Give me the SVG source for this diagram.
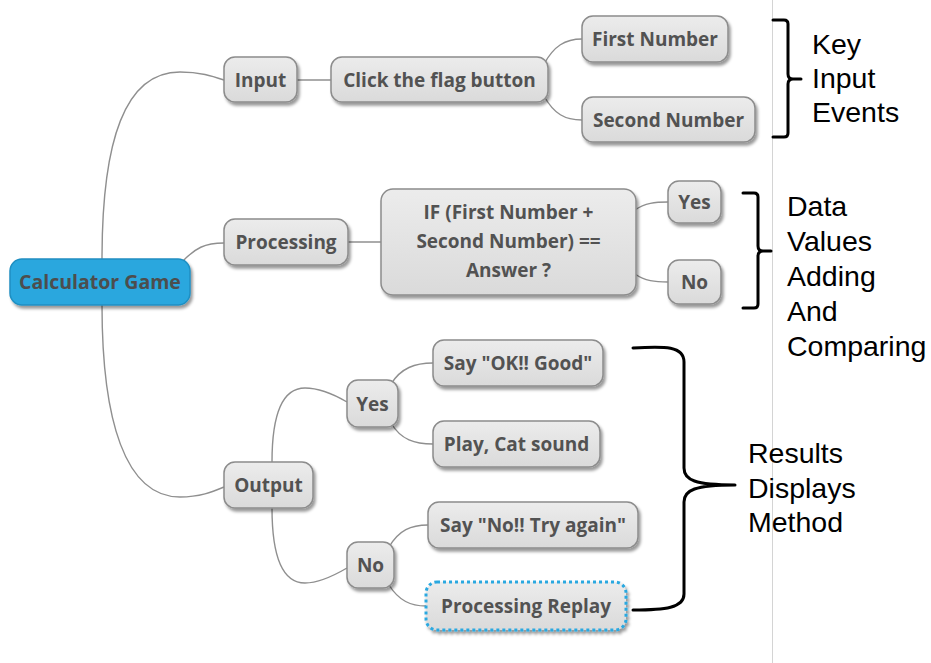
<svg xmlns="http://www.w3.org/2000/svg" width="931" height="663" viewBox="0 0 931 663">
  <defs>
    <linearGradient id="nodeFill" x1="0" y1="0" x2="0" y2="1">
      <stop offset="0" stop-color="#ececec"/>
      <stop offset="1" stop-color="#dadada"/>
    </linearGradient>
    <filter id="shadow" x="-20%" y="-30%" width="140%" height="170%">
      <feDropShadow dx="2" dy="3" stdDeviation="1.8" flood-color="#000" flood-opacity="0.4"/>
    </filter>
  </defs>
  <style>
    .node rect { fill: url(#nodeFill); stroke: #8c8c8c; stroke-width: 1.5; filter: url(#shadow); }
    .node text { font-family: "Open Sans", "DejaVu Sans", sans-serif; font-weight: bold; font-size: 19px; fill: #525252; text-anchor: middle; }
    #root rect { fill: #29a7de; stroke: #1f8fc2; }
    #root text { fill: #4d4d4d; font-size: 19.5px; }
    #replay rect { stroke: #2aa8e0; stroke-width: 3; stroke-dasharray: 3 3; }
    .link { fill: none; stroke: #8f8f8f; stroke-width: 1.4; }
    .brace { fill: none; stroke: #000; stroke-width: 3; stroke-linecap: round; stroke-linejoin: round; }
    .note { font-family: "Liberation Sans", Arial, sans-serif; font-size: 28.5px; fill: #000; }
  </style>

  <rect width="931" height="663" fill="#ffffff"/>
  <!-- page divider -->
  <line x1="772.5" y1="0" x2="772.5" y2="663" stroke="#d4d4d4" stroke-width="1"/>

  <!-- connectors -->
  <g id="connectors">
    <path class="link" d="M102,259 C102,140 125,72 180,72 C200,72 212,76 224,80"/>
    <path class="link" d="M182,262 C195,248 205,243 224,243"/>
    <path class="link" d="M102,305 C102,420 125,497 180,497 C200,497 212,492 224,487"/>
    <path class="link" d="M297,80 H331"/>
    <path class="link" d="M544,64 C554,46 565,39 582,39"/>
    <path class="link" d="M544,96 C554,114 565,120 582,120"/>
    <path class="link" d="M348,242 H381"/>
    <path class="link" d="M635,210 C645,203 655,202 668,202"/>
    <path class="link" d="M635,274 C645,281 655,282 668,282"/>
    <path class="link" d="M272,462 C272,420 280,388 305,388 C320,388 335,395 347,402"/>
    <path class="link" d="M272,508 C272,550 280,583 305,583 C320,583 335,575 347,568"/>
    <path class="link" d="M391,384 C401,368 415,363 433,363"/>
    <path class="link" d="M391,423 C401,440 415,444 433,444"/>
    <path class="link" d="M389,547 C399,530 411,525 428,525"/>
    <path class="link" d="M389,585 C399,601 411,606 426,606"/>
  </g>

  <!-- nodes -->
  <g id="root" class="node"><rect x="10" y="259" width="180" height="46" rx="12"/><text x="100" y="289">Calculator Game</text></g>
  <g id="input" class="node"><rect x="224" y="57" width="73" height="45" rx="11"/><text x="260.5" y="86.5">Input</text></g>
  <g id="click" class="node"><rect x="331" y="57" width="217" height="45" rx="11"/><text x="439.5" y="86.5">Click the flag button</text></g>
  <g id="first" class="node"><rect x="582" y="16" width="146" height="46" rx="11"/><text x="655" y="45.5">First Number</text></g>
  <g id="second" class="node"><rect x="582" y="97" width="173" height="45" rx="11"/><text x="668.5" y="126.5">Second Number</text></g>
  <g id="processing" class="node"><rect x="224" y="219" width="124" height="46" rx="11"/><text x="286" y="248.5">Processing</text></g>
  <g id="condition" class="node"><rect x="381" y="189" width="255" height="106" rx="12"/>
    <text x="508.5" y="219">IF (First Number +</text>
    <text x="508.5" y="248">Second Number) ==</text>
    <text x="508.5" y="277">Answer ?</text>
  </g>
  <g id="yes1" class="node"><rect x="668" y="181" width="53" height="42" rx="11"/><text x="694.5" y="208.5">Yes</text></g>
  <g id="no1" class="node"><rect x="668" y="260" width="53" height="44" rx="11"/><text x="694.5" y="288.5">No</text></g>
  <g id="output" class="node"><rect x="224" y="462" width="89" height="46" rx="11"/><text x="268.5" y="491.5">Output</text></g>
  <g id="yes2" class="node"><rect x="347" y="380" width="51" height="47" rx="11"/><text x="372.5" y="410.5">Yes</text></g>
  <g id="sayok" class="node"><rect x="433" y="340" width="170" height="46" rx="11"/><text x="518" y="369.5">Say "OK!! Good"</text></g>
  <g id="play" class="node"><rect x="433" y="421" width="167" height="46" rx="11"/><text x="516.5" y="450.5">Play, Cat sound</text></g>
  <g id="no2" class="node"><rect x="347" y="542" width="47" height="46" rx="11"/><text x="370.5" y="571.5">No</text></g>
  <g id="sayno" class="node"><rect x="428" y="502" width="210" height="46" rx="11"/><text x="533" y="531.5">Say "No!! Try again"</text></g>
  <g id="replay" class="node"><rect x="426" y="582" width="200" height="48" rx="11"/><text x="526" y="612.5">Processing Replay</text></g>

  <!-- annotation braces -->
  <g id="brace-input">
    <path class="brace" d="M773,20 H784 Q788,20 788,24 V74 Q788,79 793,79 H801 M793,79 Q788,79 788,84 V133 Q788,137 784,137 H773"/>
    <text class="note" x="812" y="54">Key</text>
    <text class="note" x="812" y="88">Input</text>
    <text class="note" x="812" y="122">Events</text>
  </g>
  <g id="brace-data">
    <path class="brace" d="M743,193 H754 Q758,193 758,197 V246 Q758,251 763,251 H771 M763,251 Q758,251 758,256 V304 Q758,308 754,308 H743"/>
    <text class="note" x="787" y="216">Data</text>
    <text class="note" x="787" y="251">Values</text>
    <text class="note" x="787" y="286">Adding</text>
    <text class="note" x="787" y="321">And</text>
    <text class="note" x="787" y="356">Comparing</text>
  </g>
  <g id="brace-output">
    <path class="brace" d="M633,348 C665,346 684,346 684,362 V468 C684,480 695,485 735,485 C695,485 684,490 684,502 V594 C684,608 665,610 633,610"/>
    <text class="note" x="748" y="463">Results</text>
    <text class="note" x="748" y="498">Displays</text>
    <text class="note" x="748" y="532">Method</text>
  </g>
</svg>
